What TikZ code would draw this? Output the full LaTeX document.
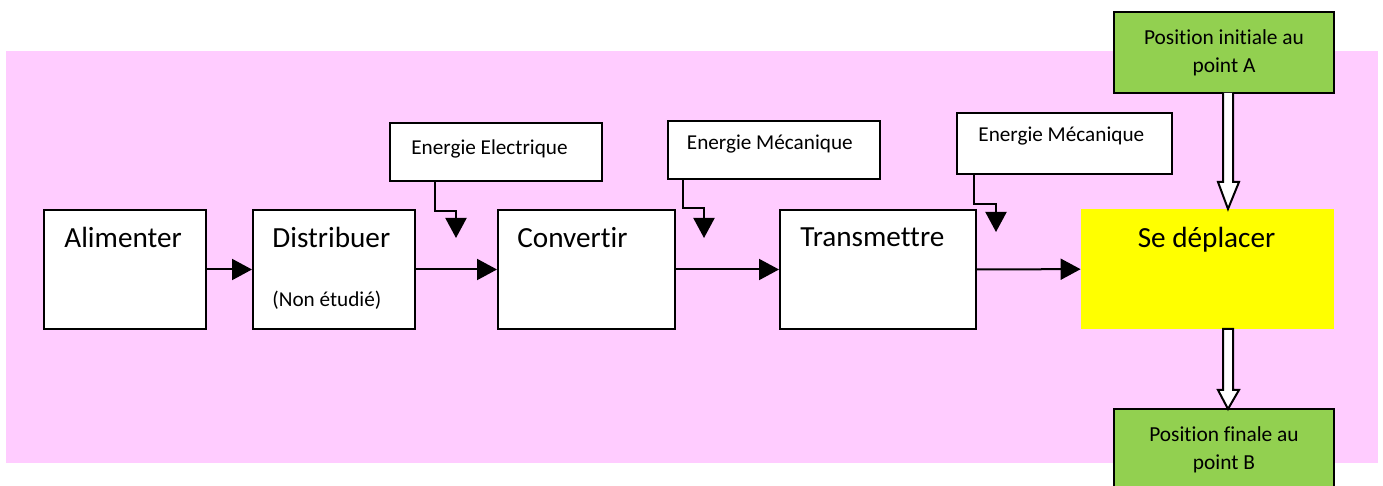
\documentclass[tikz,border=0pt]{standalone}
\usepackage{fontspec}
\setmainfont{Carlito}[Ligatures=NoCommon]
\usetikzlibrary{arrows.meta,positioning}
\definecolor{BgPink}{RGB}{255, 204, 255}
\definecolor{SunYellow}{RGB}{255, 255, 0}
\definecolor{LeafGreen}{RGB}{146, 208, 80}

\begin{document}
\begin{tikzpicture}[
    x=0.5pt, y=-0.5pt,
    box/.style={draw, rectangle, fill=white, line width=1pt, inner sep=0pt, minimum width=81pt, minimum height=59.5pt},
    energy/.style={draw, rectangle, fill=white, line width=1pt, inner sep=0pt, minimum width=106pt, minimum height=29pt},
    posbox/.style={draw, rectangle, fill=LeafGreen, line width=1pt, align=center, minimum width=110pt, minimum height=40.5pt, font=\fontsize{10.7}{14}\selectfont},
    bigtxt/.style={inner sep=0pt, font=\fontsize{14.6}{17}\selectfont},
    smalltxt/.style={inner sep=0pt, font=\fontsize{10.6}{13}\selectfont},
    arrow/.style={-{Triangle[length=10pt, width=10.5pt]}, line width=1pt},
    hollow/.style={draw, fill=white, line width=1pt, line join=miter}
  ]
    \useasboundingbox (0,0) rectangle (1383,486);
    \clip (0,0) rectangle (1383,486);
    \fill[BgPink] (6,51) rectangle (1378,463);

    % Chain of functions
    \node[box] (alim) at (125,269.5) {};
    \node[box] (dist) at (334,269.5) {};
    \node[box, minimum width=88.5pt] (conv) at (586.5,269.5) {};
    \node[box, minimum width=98pt] (trans) at (878,269.5) {};
    \node[rectangle, fill=SunYellow, minimum width=126.5pt, minimum height=60pt] (move) at (1207.5,269) {};

    \node[bigtxt, anchor=base west] (alimtxt) at ([shift={(21,39)}]alim.north west) {Alimenter};
    \node[bigtxt, anchor=base west] (disttxt) at ([shift={(20,39)}]dist.north west) {Distribuer};
    \node[smalltxt, anchor=base west] (distnote) at ([shift={(20,98)}]dist.north west) {(Non étudié)};
    \node[bigtxt, anchor=base west] (convtxt) at ([shift={(20,39)}]conv.north west) {Convertir};
    \node[bigtxt, anchor=base west] (transtxt) at ([shift={(21,38)}]trans.north west) {Transmettre};
    \node[bigtxt, anchor=base] (movetxt) at (1206.5,248) {Se déplacer};

    \draw[arrow] (alim) -- (dist);
    \draw[arrow] (dist) -- (conv);
    \draw[arrow] (conv) -- (trans);
    \draw[arrow] (trans) -- (move);

    % Energy inputs
    \node[energy] (elec) at (496,152.5) {};
    \node[energy] (meca1) at (773.5,150) {};
    \node[energy, minimum width=107.5pt, minimum height=30.5pt] (meca2) at (1064.5,143.5) {};

    \node[smalltxt, anchor=base west] (electxt) at ([shift={(22,32)}]elec.north west) {Energie Electrique};
    \node[smalltxt, anchor=base west] (meca1txt) at ([shift={(20,30)}]meca1.north west) {Energie Mécanique};
    \node[smalltxt, anchor=base west] (meca2txt) at ([shift={(22,30)}]meca2.north west) {Energie Mécanique};

    \coordinate (elecin) at (456,238);
    \coordinate (meca1in) at (704,238);
    \coordinate (meca2in) at (996,232);

    \draw[arrow] ([xshift=23pt]elec.south west) -- ++(0,29) -| (elecin);
    \draw[arrow] ([xshift=8pt]meca1.south west) -- ++(0,28) -| (meca1in);
    \draw[arrow] ([xshift=9pt]meca2.south west) -- ++(0,29) -| (meca2in);

    % Start and end positions
    \node[posbox] (posA) at (1224,52.5) {Position initiale au\\point A};
    \node[posbox] (posB) at (1224,449.5) {Position finale au\\point B};

    \coordinate (inA) at (1228,93);
    \coordinate (inB) at (1228,329);
    \draw[hollow] (inA) ++(-5,0) -- ++(0,89) -- ++(-5,0) -- ++(10,27) -- ++(11,-27) -- ++(-6,0) -- ++(0,-89);
    \draw[hollow] (inB) ++(-5,0) -- ++(0,61) -- ++(-5,0) -- ++(10,19) -- ++(11,-19) -- ++(-6,0) -- ++(0,-61) -- cycle;
  \end{tikzpicture}
\end{document}
